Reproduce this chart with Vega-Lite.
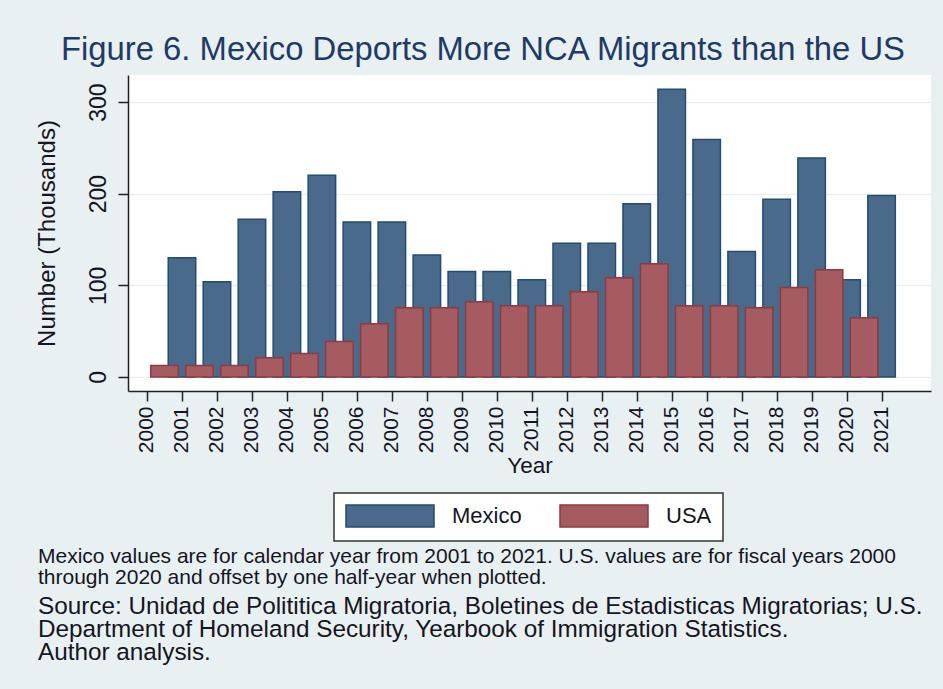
{
  "$schema": "https://vega.github.io/schema/vega-lite/v6.json",
  "autosize": "pad",
  "padding": {"left": 35, "top": 34, "right": 12, "bottom": 24},
  "background": "#e9f0f2",
  "title": {
    "text": "Figure 6. Mexico Deports More NCA Migrants than the US",
    "fontSize": 32.8,
    "font": "Liberation Sans",
    "fontWeight": "normal",
    "color": "#1e3a66",
    "anchor": "middle",
    "offset": 8
  },
  "config": {
    "font": "Liberation Sans",
    "view": {"stroke": null, "fill": "white"},
    "axis": {"labelFont": "Liberation Sans", "titleFont": "Liberation Sans", "titleFontWeight": "normal", "labelColor": "#15151f", "titleColor": "#15151f"}
  },
  "vconcat": [
    {
      "width": 803,
      "height": 316,
      "title": {
        "text": ["Mexico values are for calendar year from 2001 to 2021. U.S. values are for fiscal years 2000", "through 2020 and offset by one half-year when plotted."],
        "subtitle": ["Source: Unidad de Polititica Migratoria, Boletines de Estadisticas Migratorias; U.S.", "Department of Homeland Security, Yearbook of Immigration Statistics.", "Author analysis."],
        "orient": "bottom",
        "anchor": "start",
        "dx": 3,
        "font": "Liberation Sans",
        "fontSize": 21,
        "fontWeight": "normal",
        "color": "#15151f",
        "lineHeight": 21,
        "subtitleFont": "Liberation Sans",
        "subtitleFontSize": 24.3,
        "subtitleLineHeight": 23.2,
        "subtitleColor": "#15151f",
        "subtitlePadding": 6.5,
        "offset": 69
      },
      "data": {
        "values": [
          {"series": "Mexico", "year": 2001, "value": 130},
          {"series": "Mexico", "year": 2002, "value": 104},
          {"series": "Mexico", "year": 2003, "value": 172},
          {"series": "Mexico", "year": 2004, "value": 202},
          {"series": "Mexico", "year": 2005, "value": 220},
          {"series": "Mexico", "year": 2006, "value": 169},
          {"series": "Mexico", "year": 2007, "value": 169},
          {"series": "Mexico", "year": 2008, "value": 133},
          {"series": "Mexico", "year": 2009, "value": 115},
          {"series": "Mexico", "year": 2010, "value": 115},
          {"series": "Mexico", "year": 2011, "value": 106},
          {"series": "Mexico", "year": 2012, "value": 146},
          {"series": "Mexico", "year": 2013, "value": 146},
          {"series": "Mexico", "year": 2014, "value": 189},
          {"series": "Mexico", "year": 2015, "value": 314},
          {"series": "Mexico", "year": 2016, "value": 259},
          {"series": "Mexico", "year": 2017, "value": 137},
          {"series": "Mexico", "year": 2018, "value": 194},
          {"series": "Mexico", "year": 2019, "value": 239},
          {"series": "Mexico", "year": 2020, "value": 106},
          {"series": "Mexico", "year": 2021, "value": 198},
          {"series": "USA", "year": 2000.5, "value": 12.4},
          {"series": "USA", "year": 2001.5, "value": 12.4},
          {"series": "USA", "year": 2002.5, "value": 12.4},
          {"series": "USA", "year": 2003.5, "value": 21},
          {"series": "USA", "year": 2004.5, "value": 25.5},
          {"series": "USA", "year": 2005.5, "value": 38.6},
          {"series": "USA", "year": 2006.5, "value": 58.2},
          {"series": "USA", "year": 2007.5, "value": 75.6},
          {"series": "USA", "year": 2008.5, "value": 75.6},
          {"series": "USA", "year": 2009.5, "value": 82.2},
          {"series": "USA", "year": 2010.5, "value": 77.8},
          {"series": "USA", "year": 2011.5, "value": 77.8},
          {"series": "USA", "year": 2012.5, "value": 93.1},
          {"series": "USA", "year": 2013.5, "value": 108.4},
          {"series": "USA", "year": 2014.5, "value": 123.6},
          {"series": "USA", "year": 2015.5, "value": 77.8},
          {"series": "USA", "year": 2016.5, "value": 77.8},
          {"series": "USA", "year": 2017.5, "value": 75.6},
          {"series": "USA", "year": 2018.5, "value": 97.5},
          {"series": "USA", "year": 2019.5, "value": 117},
          {"series": "USA", "year": 2020.5, "value": 64.7}
        ]
      },
      "mark": {"type": "bar", "width": 27.5, "strokeWidth": 1.5},
      "encoding": {
        "x": {
          "field": "year",
          "type": "quantitative",
          "scale": {"domain": [1999.6, 2022.27], "nice": false, "zero": false},
          "axis": {
            "title": "Year",
            "values": [2000, 2001, 2002, 2003, 2004, 2005, 2006, 2007, 2008, 2009, 2010, 2011, 2012, 2013, 2014, 2015, 2016, 2017, 2018, 2019, 2020, 2021],
            "format": "d",
            "labelAngle": 270,
            "labelFontSize": 21,
            "labelPadding": 5,
            "labelOverlap": false,
            "labelFlush": false,
            "tickSize": 10,
            "tickWidth": 1.5,
            "tickColor": "#222",
            "domainColor": "#222",
            "domainWidth": 1.5,
            "grid": false,
            "titleFontSize": 22.5,
            "titlePadding": 2
          }
        },
        "y": {
          "field": "value",
          "type": "quantitative",
          "scale": {"domain": [-15.3, 329.5], "nice": false},
          "axis": {
            "title": "Number (Thousands)",
            "values": [0, 100, 200, 300],
            "labelAngle": 270,
            "labelFontSize": 23,
            "labelPadding": 8,
            "labelFlush": false,
            "labelOverlap": false,
            "tickSize": 10,
            "tickWidth": 1.5,
            "tickColor": "#222",
            "domainColor": "#222",
            "domainWidth": 1.5,
            "grid": true,
            "gridColor": "#e6eef1",
            "gridWidth": 1.5,
            "titleFontSize": 24,
            "titlePadding": 28
          }
        },
        "fill": {
          "field": "series",
          "type": "nominal",
          "scale": {"domain": ["Mexico", "USA"], "range": ["#4a6a8c", "#a55b5f"]},
          "legend": {
            "title": null,
            "orient": "none",
            "legendX": 206,
            "legendY": 418,
            "direction": "horizontal",
            "columns": 2,
            "symbolType": "M-1,-1H7V1H-1Z",
            "symbolSize": 484,
            "symbolStrokeWidth": 1.5,
            "labelFontSize": 22,
            "labelOffset": 83,
            "labelFont": "Liberation Sans",
            "labelColor": "#15151f",
            "labelLimit": 0,
            "columnPadding": 35,
            "padding": 11,
            "strokeColor": "#333",
            "fillColor": "white",
            "encode": {"legend": {"update": {"strokeWidth": {"value": 1.5}}}}
          }
        },
        "stroke": {
          "field": "series",
          "type": "nominal",
          "scale": {"domain": ["Mexico", "USA"], "range": ["#234b73", "#8f3a41"]}
        }
      }
    }
  ]
}
